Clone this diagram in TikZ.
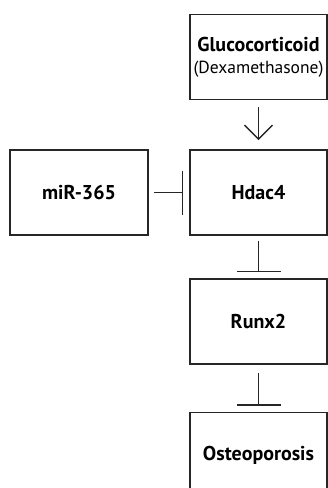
\documentclass[tikz,border=0pt]{standalone}
\usepackage{fontspec}
\setmainfont{PT Sans}
\usetikzlibrary{arrows.meta}
\tikzset{
  box/.style={draw=black!85, line width=1.6pt, minimum width=137pt, minimum height=85pt, inner sep=0pt, align=center, font=\fontsize{20}{23}\selectfont\bfseries},
  act/.style={draw=black!85, line width=1.4pt, -{Straight Barb[length=14pt,width=28pt,line width=1.4pt]}},
  inh/.style={draw=black!85, line width=1.4pt, -{Bar[width=44pt,line width=1.4pt]}},
}
\begin{document}
\begin{tikzpicture}[x=1pt,y=-1pt]
\useasboundingbox (0,0) rectangle (328,488);
\clip (0,0) rectangle (328,488);
\node[box] (gluc) at (258.5,57) {Glucocorticoid\\[-1pt]{\fontsize{17.5}{20}\selectfont\mdseries(Dexamethasone)}};
\node[box] (hdac) at (258.5,192.5) {Hdac4};
\node[box, minimum width=138pt] (mir) at (79,192.5) {miR-365};
\node[box] (runx) at (258.5,321.5) {Runx2};
\node[box] (osteo) at (258.5,455) {Osteoporosis};
\draw[act, shorten <=7pt, shorten >=9pt] (gluc) -- (hdac);
\draw[inh, shorten <=5pt, shorten >=6pt] (mir) -- (hdac);
\draw[inh, shorten <=5pt, shorten >=6pt] (hdac) -- (runx);
\draw[inh, shorten <=8pt, shorten >=6pt] (runx) -- (osteo);
\end{tikzpicture}
\end{document}
